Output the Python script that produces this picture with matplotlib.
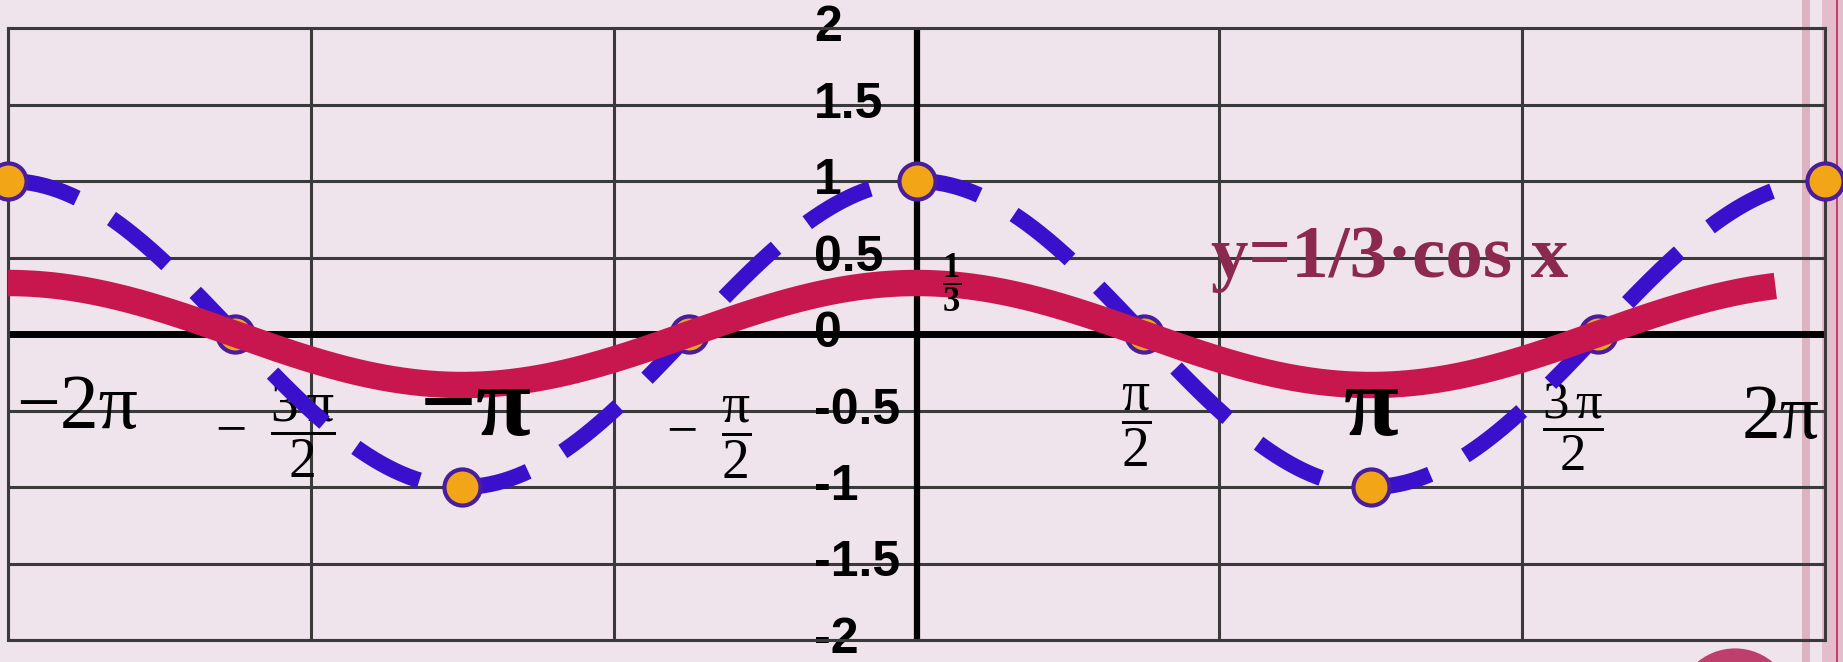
import numpy as np
import matplotlib
matplotlib.use('Agg')
import matplotlib.pyplot as plt
from matplotlib.patches import Circle, Rectangle

# serif maths with an upright pi
plt.rcParams['mathtext.fontset'] = 'custom'
plt.rcParams['mathtext.rm'] = 'Liberation Serif'
plt.rcParams['mathtext.it'] = 'Liberation Serif'
plt.rcParams['mathtext.bf'] = 'Liberation Serif:bold'

# the two curves: y = cos x (dashed) and y = 1/3 cos x
amp_cos = 1.0
amp_third = 1 / 3
x_start = -2 * np.pi
x_stop = 2 * np.pi
third_stop = 5.94

# marked points of y = cos x
key_x = np.array([-2, -1.5, -1, -0.5, 0, 0.5, 1, 1.5, 2]) * np.pi
key_y = [1, 0, -1, 0, 1, 0, -1, 0, 1]

y_ticks = [2, 1.5, 1, 0.5, 0, -0.5, -1, -1.5, -2]
y_tick_labels = ['2', '1.5', '1', '0.5', '0', '-0.5', '-1', '-1.5', '-2']

x_label_vals = np.array([-2, -1.5, -1, -0.5, 0.5, 1, 1.5, 2]) * np.pi
x_label_text = ['\u22122\u03c0', r'$-\;\;\dfrac{3\,\pi}{2}$', '\u2212\u03c0', r'$-\;\;\dfrac{\pi}{2}$',
                r'$\dfrac{\pi}{2}$', '\u03c0', r'$\dfrac{3\,\pi}{2}$', '2\u03c0']

# label placement (x shift from the tick, y position, size, weight, layer)
x_label_dx = [0.477, 0.28, 0.09, 0.13, -0.05, 0.0, -0.17, -0.31]
x_label_y = [-0.614, -0.63, -0.66, -0.68, -0.60, -0.66, -0.61, -0.68]
x_label_size = [56, 40, 72, 40, 40, 72, 38, 56]
x_label_weight = ['normal', 'normal', 'bold', 'normal', 'normal', 'bold', 'normal', 'normal']
x_label_z = [2.5, 2.5, 5.5, 2.5, 2.5, 5.5, 2.5, 2.5]

bg = '#EFE4EB'
grid_col = '#3A3A3A'

fig = plt.figure(figsize=(18.43, 6.62), dpi=100, facecolor=bg)

# decoration on the right edge, kept behind the plot
fig.patches.append(Rectangle((1802 / 1843, 0), 8 / 1843, 1, transform=fig.transFigure,
                             facecolor='#DDB2C1', edgecolor='none', zorder=-1))
fig.patches.append(Rectangle((1822 / 1843, 0), 21 / 1843, 1, transform=fig.transFigure,
                             facecolor='#E3BDCB', edgecolor='none', zorder=-1))
fig.patches.append(Rectangle((1836 / 1843, 0), 2 / 1843, 1, transform=fig.transFigure,
                             facecolor='#C2416E', edgecolor='none', zorder=-1))
fig.patches.append(Circle((17.35, -0.45), 0.586, transform=fig.dpi_scale_trans,
                          facecolor='#BE3E6C', edgecolor='none', zorder=-1))

ax = fig.add_axes([8 / 1843, 22 / 662, 1817 / 1843, 612 / 662])
ax.set_facecolor('none')
ax.set_xlim(x_start, x_stop)
ax.set_ylim(-2, 2)

ax.set_xticks(np.arange(-3, 4) * 2 * np.pi / 3)
ax.set_yticks(y_ticks)
ax.tick_params(length=0, labelbottom=False, labelleft=False)
ax.grid(True, color=grid_col, lw=2.2, zorder=0)
ax.set_axisbelow(True)
for s in ax.spines.values():
    s.set_color(grid_col)
    s.set_linewidth(2.2)

ax.axhline(0, color='black', lw=5, zorder=2)
ax.axvline(0, color='black', lw=4.5, zorder=2)

# y tick numbers next to the vertical axis
for v, s in zip(y_ticks, y_tick_labels):
    ax.text(-0.709, v, s, ha='left', va='center', fontsize=36, fontweight='bold',
            family='Liberation Sans', color='black', zorder=1.5)

# x labels in multiples of pi
for xv, s, dx, yv, fs, fw, z in zip(x_label_vals, x_label_text, x_label_dx, x_label_y,
                                    x_label_size, x_label_weight, x_label_z):
    va = 'center' if s.startswith('$') else 'baseline'
    ax.text(xv + dx, yv, s, ha='center', va=va, fontsize=fs, fontweight=fw,
            family='Liberation Serif', color='black', zorder=z)

xs = np.linspace(x_start, x_stop, 800)
ax.plot(xs, amp_cos * np.cos(xs), color='#3B10CC', lw=11.5, dashes=(4.5, 2.5),
        solid_capstyle='butt', zorder=3)
ax.plot(key_x, key_y, 'o', ms=26, mfc='#F2A516', mec='#4A1C9E', mew=3,
        clip_on=False, zorder=4)

xr = np.linspace(x_start, third_stop, 800)
ax.plot(xr, amp_third * np.cos(xr), color='#C8174F', lw=19, solid_capstyle='butt', zorder=5)

ax.text(0.245, amp_third, r'$\dfrac{\mathbf{1}}{\mathbf{3}}$', ha='center', va='center',
        fontsize=25, color='black', zorder=6)
ax.text(2.037, 0.373, 'y=1/3\u00b7cos x', ha='left', va='baseline', fontsize=54,
        fontweight='bold', family='Liberation Serif', color='#8B2A4E', zorder=6)

plt.savefig('out.png', dpi=100, facecolor=bg)
